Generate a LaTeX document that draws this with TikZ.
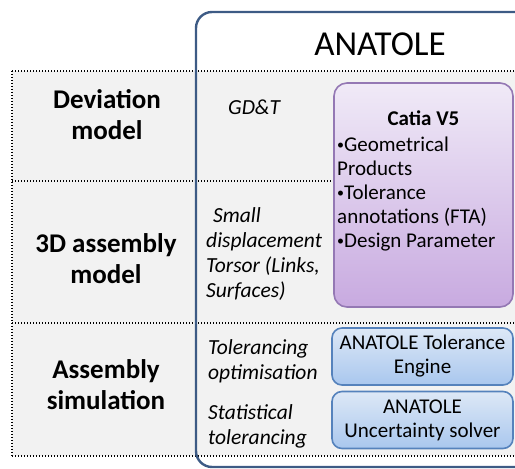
\documentclass[tikz,border=0pt]{standalone}
\usepackage{fontspec}
\setmainfont{Carlito}
\usetikzlibrary{positioning}
\definecolor{tablegray}{HTML}{F2F2F2}
\definecolor{frameblue}{HTML}{3D5B85}
\definecolor{lilactop}{HTML}{F0EAF7}
\definecolor{lilac}{HTML}{C8AAE0}
\definecolor{lilacedge}{HTML}{9478B4}
\definecolor{toolbluetop}{HTML}{DDE8F6}
\definecolor{toolblue}{HTML}{A9C7EE}
\definecolor{tooledge}{HTML}{5582BC}
% small bullet, as in the slide
\newcommand\tbul{\raisebox{2pt}{\fontsize{14}{14}\selectfont•}}
\tikzset{
  every picture/.style={line join=round},
  % dotted rules of the table
  rule/.style={line width=1.4pt, dash pattern=on 1.4pt off 1.6pt},
  frame/.style={frameblue, line width=2.4pt, rounded corners=16pt},
  rowlbl/.style={font=\bfseries\fontsize{27}{31}\selectfont, align=center, inner sep=0pt},
  method/.style={font=\itshape\fontsize{21.5}{25}\selectfont, align=left, anchor=west, inner sep=0pt},
  tooltxt/.style={font=\fontsize{21}{24}\selectfont, inner sep=0pt},
  catiabox/.style={draw=lilacedge, line width=1.6pt, rounded corners=13pt, top color=lilactop, bottom color=lilac},
  toolbox/.style={draw=tooledge, line width=1.6pt, rounded corners=10pt, top color=toolbluetop, bottom color=toolblue,
    align=center, font=\fontsize{21}{24}\selectfont, minimum width=181pt, minimum height=57pt, inner sep=0pt},
}
\begin{document}
\begin{tikzpicture}[x=1pt, y=-1pt]
  \clip (0,0) rectangle (515,469);
  % ---------------- table: three rows, dotted rules
  \fill[tablegray] (12,71) rectangle (530,456);
  \draw[rule] (12,71) -- (530,71) (12,181) -- (530,181) (12,323) -- (530,323) (12,456) -- (530,456);
  \draw[rule] (12,71) -- (12,456);
  % ---------------- ANATOLE frame, open to the right
  \draw[frame] (196,467) -- (196,12) -- (540,12) -- (540,467) -- cycle;
  \node[font=\fontsize{35}{42}\selectfont, inner sep=0pt] (anatole) at (380,44) {ANATOLE};
  % row labels
  \node[rowlbl] (deviation) at (107,115) {Deviation\\model};
  \node[rowlbl] (assembly3d) at (106,259) {3D assembly\\model};
  \node[rowlbl] (simulation) at (106,385) {Assembly\\simulation};
  % methods
  \node[method] (gdt) at (228,107) {GD\&T};
  \node[method] (torsor) at (206,254) {\hspace*{7pt}Small\\displacement\\Torsor (Links,\\Surfaces)};
  \node[method] (optim) at (208,361) {Tolerancing\\optimisation};
  \node[method] (stat) at (208,426) {Statistical\\tolerancing};
  % ---------------- tools
  \draw[catiabox] (334,83) rectangle (513,307);
  \node[tooltxt, font=\bfseries\fontsize{21}{24}\selectfont] (catia) at (423.5,118) {Catia V5};
  \node[tooltxt, align=left, anchor=north west] (catialist) at (337,137)
    {\tbul Geometrical\\Products\\\tbul Tolerance\\annotations (FTA)\\\tbul Design Parameter};
  \node[toolbox] (engine) at (422.5,356.5) {ANATOLE Tolerance\\Engine};
  \node[toolbox] (solver) at (422.5,420) {ANATOLE\\Uncertainty solver};
\end{tikzpicture}
\end{document}
